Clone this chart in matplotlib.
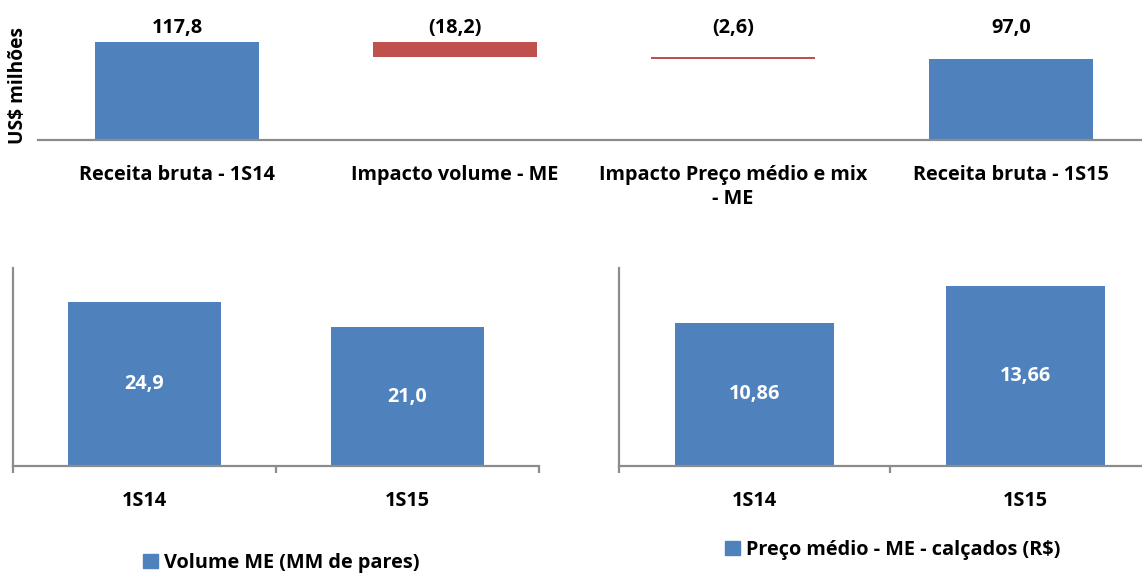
import numpy as np
import matplotlib.pyplot as plt
from matplotlib.patches import Patch

plt.rcParams['font.family'] = ['Open Sans', 'DejaVu Sans']
plt.rcParams['font.weight'] = 'bold'

# waterfall data (US$ milhoes)
wf_labels = ["Receita bruta - 1S14", "Impacto volume - ME",
             "Impacto Preço médio e mix\n- ME", "Receita bruta - 1S15"]
wf_values = [117.8, -18.2, -2.6, 97.0]
wf_total = [True, False, False, True]
wf_text = ["117,8", "(18,2)", "(2,6)", "97,0"]

# volume
vol_periods = ["1S14", "1S15"]
vol_values = [24.9, 21.0]
vol_text = ["24,9", "21,0"]

# preco medio
prc_periods = ["1S14", "1S15"]
prc_values = [10.86, 13.66]
prc_text = ["10,86", "13,66"]

BLUE = "#4F81BD"
RED = "#C0504D"
GREY = "#8C8C8C"
W, H = 1142, 576
FS = 14.3


def px_axes(fig, x0, y0, x1, y1):
    # pixel box (top-left origin) -> axes
    return fig.add_axes([x0 / W, 1 - y1 / H, (x1 - x0) / W, (y1 - y0) / H])


fig = plt.figure(figsize=(W / 100, H / 100), dpi=100)

# ---- top waterfall
ax = px_axes(fig, 38, 10, W, 140)
bottoms, heights, colors = [], [], []
running = 0.0
for v, tot in zip(wf_values, wf_total):
    if tot:
        bottoms.append(0)
        heights.append(v)
        colors.append(BLUE)
        running = v
    else:
        bottoms.append(running + v)
        heights.append(-v)
        colors.append(RED)
        running = running + v
x = np.arange(len(wf_values))
ax.bar(x, heights, bottom=bottoms, width=0.59, color=colors)
for xi, t in zip(x, wf_text):
    ax.annotate(t, (xi, 0.865), xycoords=('data', 'axes fraction'),
                ha='center', va='center', fontsize=FS, fontweight='bold')
ax.set_xlim(-0.5, -0.5 + (W - 38) / 278)
ax.set_ylim(0, 156.6)
ax.set_xticks(x)
ax.set_xticklabels(wf_labels, fontsize=FS, fontweight='bold', va='top', linespacing=1.25)
ax.tick_params(axis='x', length=0, pad=18)
ax.set_yticks([])
for s in ['top', 'right', 'left']:
    ax.spines[s].set_visible(False)
ax.spines['bottom'].set_color(GREY)
ax.spines['bottom'].set_linewidth(1.6)
fig.text(18 / W, 1 - 86 / H, "US$ milhões", rotation=90, ha='center', va='center',
         fontsize=FS - 0.5, fontweight='bold')


def small_chart(ax, periods, values, texts, top, leg_label, leg_xy):
    xs = np.arange(len(values))
    ax.bar(xs, values, width=0.585, color=BLUE)
    for xi, v, t in zip(xs, values, texts):
        ax.text(xi, v / 2, t, ha='center', va='center', color='white',
                fontsize=FS, fontweight='bold')
    ax.set_ylim(0, top)
    ax.set_yticks([])
    ax.set_xticks(xs)
    ax.set_xticklabels(periods, fontsize=FS, fontweight='bold')
    ax.set_xticks(np.arange(len(values) + 1) - 0.5, minor=True)
    ax.tick_params(axis='x', which='major', length=0, pad=18)
    ax.tick_params(axis='x', which='minor', length=5, width=1.6, color=GREY, direction='out')
    for s in ['top', 'right']:
        ax.spines[s].set_visible(False)
    for s in ['bottom', 'left']:
        ax.spines[s].set_color(GREY)
        ax.spines[s].set_linewidth(1.6)
    fig.legend(handles=[Patch(color=BLUE, label=leg_label)], loc='center',
               bbox_to_anchor=leg_xy, frameon=False,
               handlelength=0.75, handleheight=0.75, handletextpad=0.3,
               prop={'weight': 'bold', 'size': FS})


ax2 = px_axes(fig, 13, 268, 539, 466)
small_chart(ax2, vol_periods, vol_values, vol_text, 30.0,
            "Volume ME (MM de pares)", (281 / W, 1 - 563 / H))
ax2.set_xlim(-0.5, 1.5)

ax3 = px_axes(fig, 619, 268, W, 466)
small_chart(ax3, prc_periods, prc_values, prc_text, 15.03,
            "Preço médio - ME - calçados (R$)", (893 / W, 1 - 550 / H))
ax3.set_xlim(-0.5, -0.5 + (W - 619) / 271)

fig.savefig("out.png", dpi=100)
